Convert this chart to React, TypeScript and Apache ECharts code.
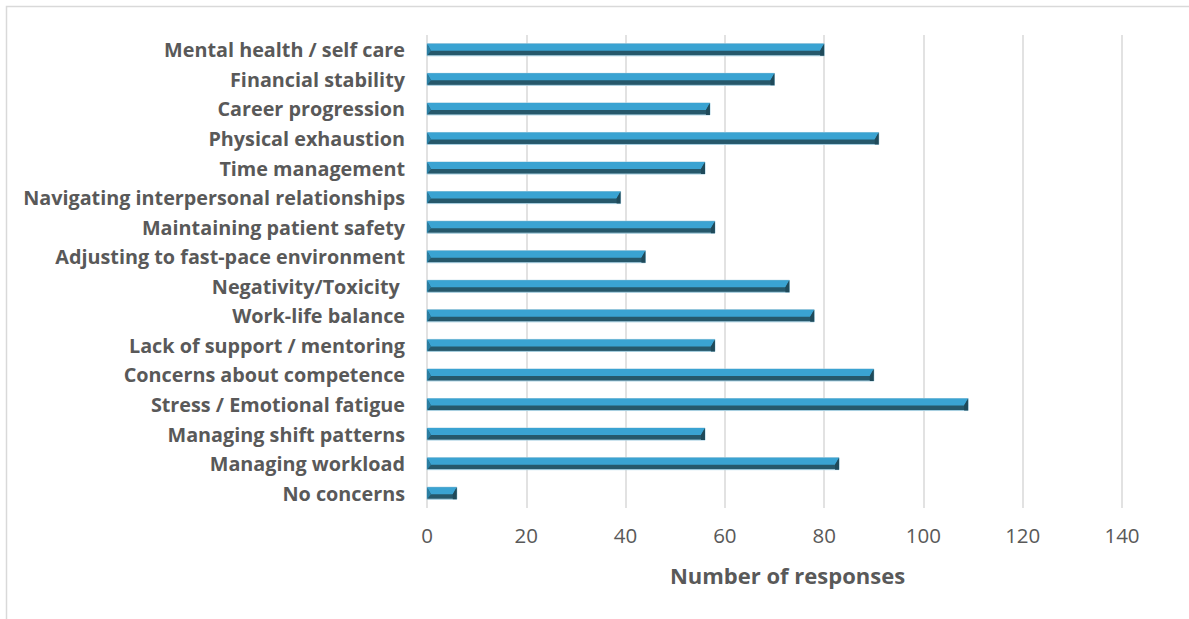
import React, { useEffect, useRef } from "react";
import * as echarts from "echarts";

const categories = [
  "Mental health / self care",
  "Financial stability",
  "Career progression",
  "Physical exhaustion",
  "Time management",
  "Navigating interpersonal relationships",
  "Maintaining patient safety",
  "Adjusting to fast-pace environment",
  "Negativity/Toxicity ",
  "Work-life balance",
  "Lack of support / mentoring",
  "Concerns about competence",
  "Stress / Emotional fatigue",
  "Managing shift patterns",
  "Managing workload",
  "No concerns",
];
const values = [80, 70, 57, 91, 56, 39, 58, 44, 73, 78, 58, 90, 109, 56, 83, 6];
const xTicks = { min: 0, max: 140, interval: 20 };

export default function App() {
  const ref = useRef<HTMLDivElement>(null);
  useEffect(() => {
    if (!ref.current) return;
    const chart = echarts.init(ref.current, null, { renderer: "svg" });
    const LIGHT = "#3aa3d2";
    const DARK = "#26586b";
    const WEDGE = "#2b7fa3";
    const H = 12;
    chart.setOption({
      animation: false,
      backgroundColor: "#ffffff",
      grid: { left: 427, right: 67, top: 35, bottom: 111 },
      xAxis: {
        type: "value",
        min: xTicks.min,
        max: xTicks.max,
        interval: xTicks.interval,
        name: "Number of responses",
        nameLocation: "middle",
        nameGap: 56,
        nameTextStyle: {
          fontFamily: "Open Sans",
          fontWeight: "bold",
          fontSize: 22,
          color: "#595959",
          padding: [0, 0, 0, 26],
        },
        axisLine: { show: false },
        axisTick: { show: false },
        axisLabel: {
          fontFamily: "Open Sans",
          fontSize: 20.5,
          color: "#595959",
          margin: 16,
        },
        splitLine: { show: true, lineStyle: { color: "#d9d9d9", width: 1.5 } },
      },
      yAxis: {
        type: "category",
        data: categories,
        inverse: true,
        axisLine: { show: false },
        axisTick: { show: false },
        axisLabel: {
          fontFamily: "Open Sans",
          fontWeight: "bold",
          fontSize: 19.8,
          color: "#595959",
          margin: 22,
        },
        splitLine: { show: false },
      },
      graphic: [
        {
          type: "rect",
          shape: { x: 6.5, y: 6.5, width: 1300, height: 800 },
          style: { fill: "none", stroke: "#d9d9d9", lineWidth: 1.5 },
          z: -1,
        },
      ],
      series: [
        {
          type: "custom",
          encode: { x: 0, y: 1 },
          data: values.map((v, i) => [v, i]),
          renderItem: (params: any, api: any) => {
            const v = api.value(0);
            const c = api.value(1);
            const s = api.coord([0, c]);
            const e = api.coord([v, c]);
            const x0 = s[0];
            const x1 = e[0];
            const yt = s[1] - H / 2;
            const yb = s[1] + H / 2;
            const ym = s[1] + 1;
            const d = 4;
            return {
              type: "group",
              children: [
                {
                  type: "rect",
                  shape: { x: x0, y: yt, width: x1 - x0, height: H },
                  style: { fill: DARK, stroke: "#a8d0e2", lineWidth: 1 },
                },
                {
                  type: "polygon",
                  shape: {
                    points: [
                      [x0, yt],
                      [x1, yt],
                      [x1 - d, ym],
                      [x0 + d, ym],
                    ],
                  },
                  style: { fill: LIGHT },
                },
                {
                  type: "polygon",
                  shape: {
                    points: [
                      [x0, yt],
                      [x0 + d, ym],
                      [x0, yb],
                    ],
                  },
                  style: { fill: WEDGE },
                },
                {
                  type: "polygon",
                  shape: {
                    points: [
                      [x1, yt],
                      [x1, yb],
                      [x1 - d, yb],
                      [x1 - d, ym],
                    ],
                  },
                  style: { fill: "#1f4a5a" },
                },
              ],
            };
          },
        },
      ],
    });
    return () => chart.dispose();
  }, []);
  return (
    <div
      ref={ref}
      style={{ position: "absolute", left: 0, top: 0, width: 1189, height: 619 }}
    />
  );
}
